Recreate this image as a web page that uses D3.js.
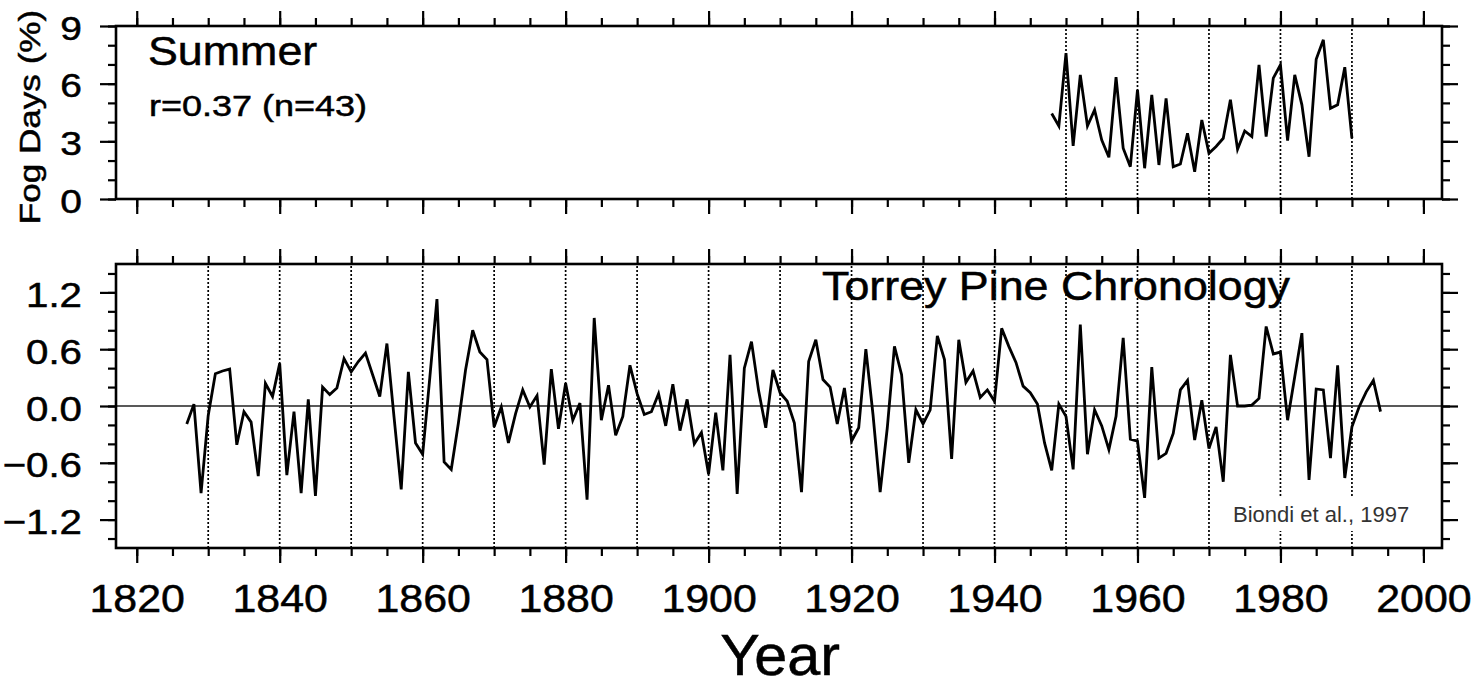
<!DOCTYPE html>
<html lang="en">
<head>
<meta charset="UTF-8">
<title>Fog days and Torrey Pine chronology</title>
<style>
  body { margin: 0; background: #fff; }
  text { font-family: "Liberation Sans", Arial, Helvetica, sans-serif; fill: #000; stroke: #000; stroke-width: 0.5px; }
</style>
</head>
<body>
<svg id="chart" width="1471" height="686"></svg>
<script src="https://d3js.org/d3.v7.min.js"></script>
<script>
// summer fog days (%), 1948-1990
const fogYears = d3.range(1948, 1991);
const fogDays = [
  4.45, 3.80, 7.59, 2.76, 6.46, 3.80, 4.64, 3.07, 2.17, 6.34,
  2.64, 1.68, 5.68, 1.60, 5.42, 1.77, 5.24, 1.68, 1.82, 3.42,
  1.42, 4.11, 2.38, 2.73, 3.16, 5.16, 2.59, 3.54, 3.25, 6.98,
  3.25, 6.29, 6.98, 3.04, 6.46, 4.90, 2.20, 7.27, 8.28, 4.72,
  4.90, 6.86, 3.16
];

// Torrey Pine chronology index, 1827-1994
const treeYears = d3.range(1827, 1995);
const treeIndex = [
  -0.19, 0.02, -0.92, -0.10, 0.34, 0.37, 0.39, -0.41, -0.06, -0.17,   // 1827-1836
  -0.74, 0.24, 0.10, 0.45, -0.73, -0.06, -0.92, 0.07, -0.95, 0.20,    // 1837-1846
  0.12, 0.19, 0.50, 0.36, 0.47, 0.56, 0.33, 0.10, 0.66, -0.12,        // 1847-1856
  -0.88, 0.36, -0.39, -0.51, 0.30, 1.13, -0.59, -0.67, -0.18, 0.38,   // 1857-1866
  0.80, 0.57, 0.49, -0.22, -0.01, -0.39, -0.08, 0.17, -0.01, 0.11,    // 1867-1876
  -0.62, 0.39, -0.24, 0.24, -0.15, 0.03, -0.99, 0.93, -0.15, 0.22,    // 1877-1886
  -0.31, -0.11, 0.43, 0.13, -0.09, -0.06, 0.13, -0.21, 0.23, -0.26,   // 1887-1896
  0.07, -0.40, -0.28, -0.72, -0.07, -0.68, 0.54, -0.93, 0.40, 0.68,   // 1897-1906
  0.16, -0.23, 0.38, 0.14, 0.05, -0.18, -0.91, 0.47, 0.70, 0.28,      // 1907-1916
  0.20, -0.19, 0.19, -0.37, -0.23, 0.60, -0.09, -0.91, -0.23, 0.63,   // 1917-1926
  0.33, -0.60, -0.04, -0.19, -0.04, 0.74, 0.49, -0.56, 0.70, 0.25,    // 1927-1936
  0.37, 0.09, 0.17, 0.05, 0.82, 0.63, 0.46, 0.21, 0.14, 0.02,         // 1937-1946
  -0.39, -0.68, 0.02, -0.11, -0.67, 0.86, -0.51, -0.04, -0.21, -0.46, // 1947-1956
  -0.11, 0.72, -0.35, -0.37, -0.97, 0.41, -0.55, -0.50, -0.29, 0.17,  // 1957-1966
  0.27, -0.36, 0.06, -0.45, -0.22, -0.80, 0.54, 0.00, 0.00, 0.01,     // 1967-1976
  0.08, 0.84, 0.55, 0.57, -0.15, 0.31, 0.77, -0.78, 0.18, 0.17,       // 1977-1986
  -0.55, 0.43, -0.76, -0.22, -0.01, 0.15, 0.27, -0.06                 // 1987-1994
];

const yearLabels = [1820, 1840, 1860, 1880, 1900, 1920, 1940, 1960, 1980, 2000];
const yearMinor = d3.range(1820, 2001, 5);
const fogLabels = [0, 3, 6, 9];
const fogMinor = [0, 1, 2, 3, 4, 5, 6, 7, 8, 9];
const treeLabels = [-1.2, -0.6, 0, 0.6, 1.2];
const treeMinor = [-1.4, -1.2, -1.0, -0.8, -0.6, -0.4, -0.2, 0, 0.2, 0.4, 0.6, 0.8, 1.0, 1.2, 1.4];
const fogGrid = [1950, 1960, 1970, 1980, 1990];
const treeGrid = [1830, 1840, 1850, 1860, 1870, 1880, 1890, 1900, 1910, 1920,
                  1930, 1940, 1950, 1960, 1970, 1980, 1990];

const svg = d3.select("#chart");
const left = 116, right = 1442;

const x = d3.scaleLinear().domain([1817.1, 2002.6]).range([left, right]);
const yFog = d3.scaleLinear().domain([0, 9]).range([199, 26]);
const yTree = d3.scaleLinear().domain([-1.5, 1.5]).range([548, 264]);

svg.append("rect").attr("width", 1471).attr("height", 686).attr("fill", "#fff");

// tick marks only, labels handled separately
function tickAxis(axis, scale, values, size, tx, ty) {
  const g = svg.append("g")
    .attr("transform", `translate(${tx},${ty})`)
    .call(axis(scale).tickValues(values).tickSize(size).tickFormat(""));
  g.select(".domain").remove();
  g.selectAll("line").attr("stroke", "#000").attr("stroke-width", 2.2);
  return g;
}

function gridLines(years, y) {
  svg.append("g")
    .selectAll("line")
    .data(years)
    .join("line")
      .attr("x1", d => x(d)).attr("x2", d => x(d))
      .attr("y1", y.range()[0]).attr("y2", y.range()[1])
      .attr("stroke", "#000")
      .attr("stroke-width", 1.7)
      .attr("stroke-dasharray", "2,2");
}

function drawLine(years, values, y) {
  svg.append("path")
    .datum(d3.zip(years, values))
    .attr("fill", "none")
    .attr("stroke", "#000")
    .attr("stroke-width", 2.8)
    .attr("stroke-linejoin", "miter")
    .attr("d", d3.line().x(d => x(d[0])).y(d => y(d[1])));
}

function frame(y) {
  const [b, t] = y.range();
  svg.append("rect")
    .attr("x", left).attr("y", t)
    .attr("width", right - left).attr("height", b - t)
    .attr("fill", "none").attr("stroke", "#000").attr("stroke-width", 2.6);
}

function yLabels(g, size, stretch, fmt) {
  g.selectAll("text")
    .text(fmt)
    .attr("x", -34 / stretch)
    .attr("dy", "0.4em")
    .attr("font-size", size)
    .attr("transform", `scale(${stretch},1)`);
}

// ---- top panel: fog days
gridLines(fogGrid, yFog);
drawLine(fogYears, fogDays, yFog);
frame(yFog);
tickAxis(d3.axisTop, x, yearMinor, 8, 0, 26);
tickAxis(d3.axisTop, x, yearLabels, 15, 0, 26);
tickAxis(d3.axisBottom, x, yearMinor, 8, 0, 199);
tickAxis(d3.axisBottom, x, yearLabels, 15, 0, 199);
tickAxis(d3.axisLeft, yFog, fogMinor, 8, left, 0);
tickAxis(d3.axisRight, yFog, fogMinor, 8, right, 0);
tickAxis(d3.axisRight, yFog, fogLabels, 16, right, 0);
const fogAxis = svg.append("g")
  .attr("transform", `translate(${left},0)`)
  .call(d3.axisLeft(yFog).tickValues(fogLabels).tickSize(16));
fogAxis.select(".domain").remove();
fogAxis.selectAll("line").attr("stroke", "#000").attr("stroke-width", 2.2);
yLabels(fogAxis, 33, 1.18, d3.format("d"));

// ---- bottom panel: tree rings
gridLines(treeGrid, yTree);
svg.append("line")
  .attr("x1", left).attr("x2", right)
  .attr("y1", yTree(0)).attr("y2", yTree(0))
  .attr("stroke", "#222").attr("stroke-width", 1.3);

const cite = svg.append("text")
  .attr("x", 1233).attr("y", 522)
  .attr("font-size", 22)
  .style("fill", "#333")
  .style("stroke", "none")
  .text("Biondi et al., 1997");
const bb = cite.node().getBBox();
svg.insert("rect", () => cite.node())
  .attr("x", bb.x - 6).attr("y", bb.y - 4)
  .attr("width", bb.width + 12).attr("height", bb.height + 8)
  .attr("fill", "#fff");

drawLine(treeYears, treeIndex, yTree);
frame(yTree);
tickAxis(d3.axisTop, x, yearMinor, 8, 0, 264);
tickAxis(d3.axisTop, x, yearLabels, 15, 0, 264);
tickAxis(d3.axisBottom, x, yearMinor, 8, 0, 548);
tickAxis(d3.axisLeft, yTree, treeMinor, 8, left, 0);
tickAxis(d3.axisRight, yTree, treeMinor, 8, right, 0);
tickAxis(d3.axisRight, yTree, treeLabels, 16, right, 0);

const treeAxis = svg.append("g")
  .attr("transform", `translate(${left},0)`)
  .call(d3.axisLeft(yTree).tickValues(treeLabels).tickSize(16));
treeAxis.select(".domain").remove();
treeAxis.selectAll("line").attr("stroke", "#000").attr("stroke-width", 2.2);
yLabels(treeAxis, 35, 1.15, d3.format(".1f"));

const yearAxis = svg.append("g")
  .attr("transform", "translate(0,548)")
  .call(d3.axisBottom(x).tickValues(yearLabels).tickSize(15).tickFormat(d3.format("d")));
yearAxis.select(".domain").remove();
yearAxis.selectAll("line").attr("stroke", "#000").attr("stroke-width", 2.2);
yearAxis.selectAll("text")
  .attr("y", 64).attr("dy", null)
  .attr("font-size", 39)
  .attr("transform", "scale(1.1,1)")
  .attr("x", 0);

// ---- titles
function label(str, tx, ty, size, stretch, anchor, rot) {
  svg.append("text")
    .attr("transform", `translate(${tx},${ty}) rotate(${rot || 0}) scale(${stretch},1)`)
    .attr("font-size", size)
    .attr("text-anchor", anchor || "start")
    .text(str);
}
label("Summer", 148, 65, 40, 1.12);
label("r=0.37 (n=43)", 149, 116, 30, 1.2);
label("Torrey Pine Chronology", 822, 300, 40, 1.12);
label("Year", 780, 675, 57, 1.04, "middle");
label("Fog Days (%)", 40, 117, 30, 1.17, "middle", -90);
</script>
</body>
</html>
